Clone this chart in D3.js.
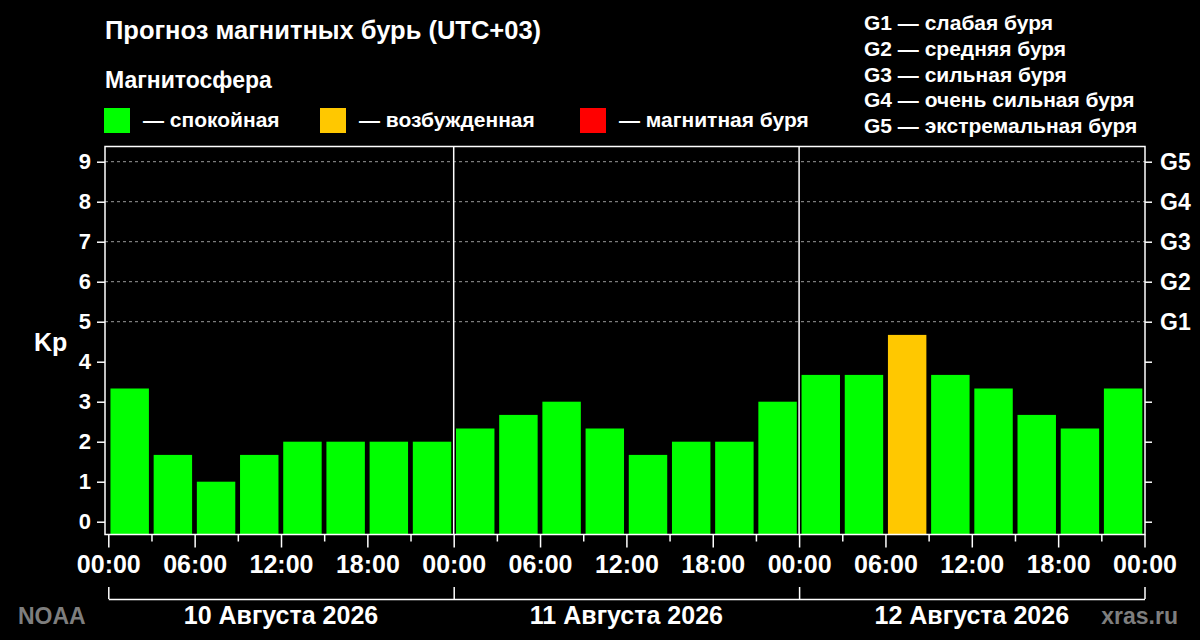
<!DOCTYPE html>
<meta charset="utf-8">
<style>
body { margin: 0; background: #000; }
svg { display: block; background: #000; font-family: "Liberation Sans", Arial, sans-serif; font-weight: bold; }
.axis text { fill: #fff; font-family: "Liberation Sans", Arial, sans-serif; font-weight: bold; }
.axis line, .axis path { stroke: #fff; stroke-width: 1.5px; }
.grid line { stroke: #9a9a9a; stroke-width: 1px; stroke-dasharray: 3,3; }
</style>
<svg width="1200" height="640"></svg>
<script src="https://d3js.org/d3.v7.min.js"></script>
<script>

// Kp forecast, 3-hour intervals, 3 days
var kpValues = [3.33, 1.67, 1.00, 1.67, 2.00, 2.00, 2.00, 2.00,
                2.33, 2.67, 3.00, 2.33, 1.67, 2.00, 2.00, 3.00,
                3.67, 3.67, 4.67, 3.67, 3.33, 2.67, 2.33, 3.33];
var days = ["10 Августа 2026", "11 Августа 2026", "12 Августа 2026"];
var kpTicks = [0, 1, 2, 3, 4, 5, 6, 7, 8, 9];
var gLabels = ["G1", "G2", "G3", "G4", "G5"];
var gLegend = ["G1 — слабая буря", "G2 — средняя буря", "G3 — сильная буря",
               "G4 — очень сильная буря", "G5 — экстремальная буря"];
var legendItems = [
  {label: "— спокойная", color: "#00ff00"},
  {label: "— возбужденная", color: "#ffc800"},
  {label: "— магнитная буря", color: "#ff0000"}
];

var svg = d3.select("svg");

var plotLeft = 105, plotRight = 1145, plotTop = 146.5, plotBottom = 534.5;

var x = d3.scaleLinear().domain([0, 72]).range([108.3, 1144.5]);
var y = d3.scaleLinear().domain([0, 9]).range([521.7, 161.7]);
var band = d3.scaleBand().domain(d3.range(kpValues.length))
  .range([108.3, 1144.5]).paddingInner(0.11).paddingOuter(0.05);

function color(v) {
  if (v >= 5) return "#ff0000";
  if (v >= 4) return "#ffc800";
  return "#00ff00";
}

// title and legends
svg.append("text").attr("x", 105).attr("y", 39)
  .attr("fill", "#fff").style("font-size", "25.5px")
  .text("Прогноз магнитных бурь (UTC+03)");
svg.append("text").attr("x", 105).attr("y", 88)
  .attr("fill", "#fff").style("font-size", "23px")
  .text("Магнитосфера");

var leg = svg.selectAll(".leg").data(legendItems).enter().append("g")
  .attr("class", "leg")
  .attr("transform", function(d, i) { return "translate(" + [104, 320, 580][i] + ",108)"; });
leg.append("rect").attr("width", 26).attr("height", 25).attr("fill", function(d) { return d.color; });
leg.append("text").attr("x", 39).attr("y", 19).attr("fill", "#fff")
  .style("font-size", "21px").text(function(d) { return d.label; });

svg.selectAll(".glegend").data(gLegend).enter().append("text")
  .attr("class", "glegend")
  .attr("x", 864).attr("y", function(d, i) { return 30 + i * 25.8; })
  .attr("fill", "#fff").style("font-size", "21px")
  .text(function(d) { return d; });

// grid lines for storm levels
svg.append("g").attr("class", "grid")
  .selectAll("line").data([5, 6, 7, 8, 9]).enter().append("line")
  .attr("x1", plotLeft).attr("x2", plotRight)
  .attr("y1", function(d) { return y(d); }).attr("y2", function(d) { return y(d); });

// bars
svg.append("g").selectAll("rect").data(kpValues).enter().append("rect")
  .attr("x", function(d, i) { return band(i); })
  .attr("width", band.bandwidth())
  .attr("y", function(d) { return y(d); })
  .attr("height", function(d) { return plotBottom - y(d); })
  .attr("fill", color);

// frame and day separators
svg.append("rect").attr("x", plotLeft).attr("y", plotTop)
  .attr("width", plotRight - plotLeft).attr("height", plotBottom - plotTop)
  .attr("fill", "none").attr("stroke", "#fff").attr("stroke-width", 1.5);
svg.append("g").selectAll("line").data([24, 48]).enter().append("line")
  .attr("x1", function(d) { return x(d); }).attr("x2", function(d) { return x(d); })
  .attr("y1", plotTop).attr("y2", plotBottom)
  .attr("stroke", "#fff").attr("stroke-width", 1.5);

// left axis
svg.append("g").attr("class", "axis")
  .attr("transform", "translate(" + plotLeft + ",0)")
  .call(d3.axisLeft(y).tickValues(kpTicks).tickSize(8).tickPadding(6))
  .call(function(g) { g.select(".domain").remove(); })
  .selectAll("text").style("font-size", "22px");

svg.append("text").attr("x", 34).attr("y", 351)
  .attr("fill", "#fff").style("font-size", "25px").text("Kp");

// right axis (G scale)
svg.append("g").attr("class", "axis")
  .attr("transform", "translate(" + plotRight + ",0)")
  .call(d3.axisRight(y).tickValues(kpTicks).tickSize(7).tickPadding(8)
    .tickFormat(function(d) { return d >= 5 ? gLabels[d - 5] : ""; }))
  .call(function(g) { g.select(".domain").remove(); })
  .selectAll("text").style("font-size", "23px");

// bottom axis: minor ticks every 3h, major every 6h
svg.append("g").attr("class", "axis")
  .attr("transform", "translate(0," + plotBottom + ")")
  .call(d3.axisBottom(x).tickValues(d3.range(3, 72, 6)).tickSize(7).tickFormat(""))
  .call(function(g) { g.select(".domain").remove(); });

svg.append("g").attr("class", "axis")
  .attr("transform", "translate(0," + plotBottom + ")")
  .call(d3.axisBottom(x).tickValues(d3.range(0, 73, 6)).tickSize(13).tickPadding(8)
    .tickFormat(function(d) { return d3.format("02")(d % 24) + ":00"; }))
  .call(function(g) { g.select(".domain").remove(); })
  .selectAll("text").style("font-size", "25px");

// day bracket
svg.append("g").attr("class", "axis")
  .attr("transform", "translate(0,599)")
  .call(d3.axisTop(x).tickValues([0, 24, 48, 72]).tickSize(12).tickSizeOuter(0).tickFormat(""));

svg.selectAll(".day").data(days).enter().append("text")
  .attr("class", "day")
  .attr("x", function(d, i) { return x(i * 24 + 12); }).attr("y", 624)
  .attr("text-anchor", "middle").attr("fill", "#fff").style("font-size", "25px")
  .text(function(d) { return d; });

svg.append("text").attr("x", 18).attr("y", 624)
  .attr("fill", "#7e7e7e").style("font-size", "23px").text("NOAA");
svg.append("text").attr("x", 1178).attr("y", 624).attr("text-anchor", "end")
  .attr("fill", "#7e7e7e").style("font-size", "23px").text("xras.ru");

</script>
